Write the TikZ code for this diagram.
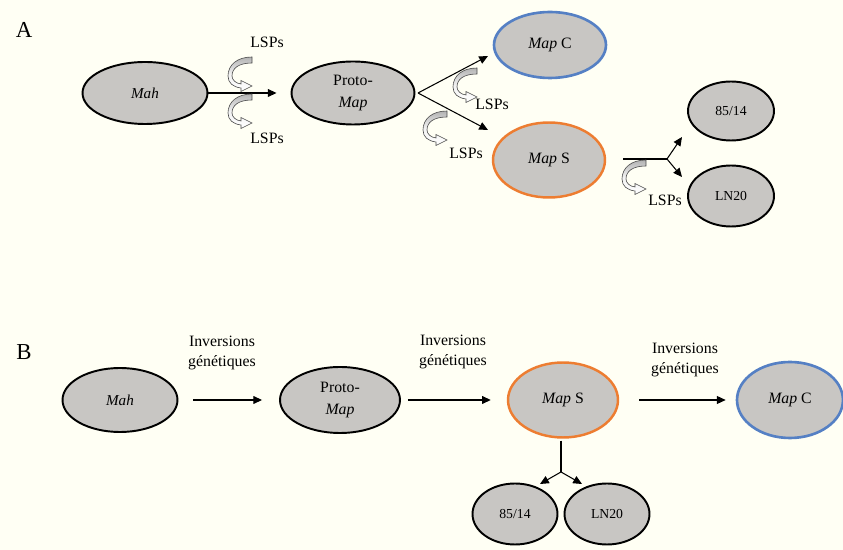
\documentclass[tikz,border=0pt]{standalone}
\usepackage{fontspec}
\setmainfont{Liberation Serif}
\usetikzlibrary{shapes.geometric,arrows.meta}
\definecolor{ivory}{RGB}{255,255,244}
\definecolor{cellgray}{RGB}{200,198,195}
\definecolor{mapcblue}{RGB}{85,128,196}
\definecolor{mapsorange}{RGB}{237,125,49}
\tikzset{
	strain/.style={ellipse, draw=black, line width=1.1pt, fill=cellgray, inner sep=0pt, align=center, font=\fontsize{9}{12}\selectfont},
	strainsmall/.style={strain, font=\fontsize{7.8}{10}\selectfont},
	mapc/.style={strain, draw=mapcblue, line width=1.5pt},
	maps/.style={strain, draw=mapsorange, line width=1.4pt},
	arr/.style={-{Triangle[length=5pt,width=4.5pt]}, line width=0.6pt},
	lsplabel/.style={font=\fontsize{9}{11}\selectfont},
	invlabel/.style={align=center, font=\fontsize{9}{11.4}\selectfont},
	lsparrow/.pic={
		\draw[gray!60!black, line width=0.35pt, top color=gray!60, bottom color=white, middle color=white!90!gray]
			(25,0) .. controls (10,0) and (1,8) .. (1,19) .. controls (1,26) and (6,30) .. (14,31)
			-- (14,34.5) -- (25,29) -- (14,23.5) -- (14,27)
			.. controls (9,26.5) and (5,23) .. (5,19) .. controls (5,11) and (12,6) .. (25,6) -- cycle;
	}
}
\begin{document}
\begin{tikzpicture}[x=0.02cm,y=-0.02cm]
	\fill[ivory] (0,0) rectangle (843,550);
	\useasboundingbox (0,0) rectangle (843,550);
	% panel A
	\node[font=\fontsize{13}{13}\selectfont] (labA) at (24,30) {A};
	\node[strain, minimum width=2.5cm, minimum height=1.24cm, font=\fontsize{8.6}{10}\selectfont] (mahA) at (145,93) {\textit{Mah}};
	\node[strain, minimum width=2.46cm, minimum height=1.26cm] (protoA) at (353,93) {Proto-\\\textit{Map}};
	\node[mapc, minimum width=2.24cm, minimum height=1.32cm] (mapcA) at (550,45) {\textit{Map} C};
	\node[maps, minimum width=2.24cm, minimum height=1.5cm] (mapsA) at (549,160) {\textit{Map} S};
	\node[strainsmall, minimum width=1.72cm, minimum height=1.18cm] (strA) at (731,111) {85/14};
	\node[strainsmall, minimum width=1.72cm, minimum height=1.22cm] (lnA) at (731,196) {LN20};
	\draw[arr, shorten >=0.28cm] (mahA.east) -- (mahA.east -| protoA.west);
	\pic at (227,57) {lsparrow};
	\pic at (227,94) {lsparrow};
	\node[lsplabel] (lspA1) at (267,42) {LSPs};
	\node[lsplabel] (lspA2) at (267,138) {LSPs};
	\coordinate (forkP) at (418,93);
	\coordinate (tipC) at (488,56);
	\coordinate (tipS) at (488,130);
	\draw[arr] (forkP) -- (tipC);
	\draw[arr] (forkP) -- (tipS);
	\pic at (452,68) {lsparrow};
	\pic at (422,111) {lsparrow};
	\node[lsplabel] (lspA3) at (492,104) {LSPs};
	\node[lsplabel] (lspA4) at (466,153) {LSPs};
	\coordinate (forkS) at (667,159);
	\coordinate (tipStr) at (682,137);
	\coordinate (tipLn) at (682,177);
	\draw[line width=0.6pt, shorten <=0.34cm] (mapsA.east |- forkS) -- (forkS);
	\draw[arr] (forkS) -- (tipStr);
	\draw[arr] (forkS) -- (tipLn);
	\pic at (621,160) {lsparrow};
	\node[lsplabel] (lspA5) at (665,200) {LSPs};
	% panel B
	\node[font=\fontsize{13}{13}\selectfont] (labB) at (24,352) {B};
	\node[strain, minimum width=2.3cm, minimum height=1.28cm, font=\fontsize{8.6}{10}\selectfont] (mahB) at (120,400) {\textit{Mah}};
	\node[strain, minimum width=2.4cm, minimum height=1.32cm] (protoB) at (340,400) {Proto-\\\textit{Map}};
	\node[maps, minimum width=2.2cm, minimum height=1.5cm] (mapsB) at (563,400) {\textit{Map} S};
	\node[mapc, minimum width=2.12cm, minimum height=1.52cm] (mapcB) at (790,400) {\textit{Map} C};
	\node[strainsmall, minimum width=1.7cm, minimum height=1.22cm] (strB) at (515,514) {85/14};
	\node[strainsmall, minimum width=1.7cm, minimum height=1.22cm] (lnB) at (607,514) {LN20};
	\draw[arr, shorten <=0.3cm, shorten >=0.34cm] (mahB.east) -- (protoB.west);
	\draw[arr, shorten <=0.14cm, shorten >=0.32cm] (protoB.east) -- (mapsB.west);
	\draw[arr, shorten <=0.4cm, shorten >=0.2cm] (mapsB.east) -- (mapcB.west);
	\node[invlabel] (invB1) at (222,353) {Inversions\\génétiques};
	\node[invlabel] (invB2) at (453,352) {Inversions\\génétiques};
	\node[invlabel] (invB3) at (685,360) {Inversions\\génétiques};
	\coordinate (forkB) at (561,472);
	\coordinate (tipStrB) at (540,484);
	\coordinate (tipLnB) at (582,484);
	\draw[line width=0.6pt, shorten <=0.04cm] (forkB |- mapsB.south) -- (forkB);
	\draw[arr] (forkB) -- (tipStrB);
	\draw[arr] (forkB) -- (tipLnB);
\end{tikzpicture}
\end{document}
